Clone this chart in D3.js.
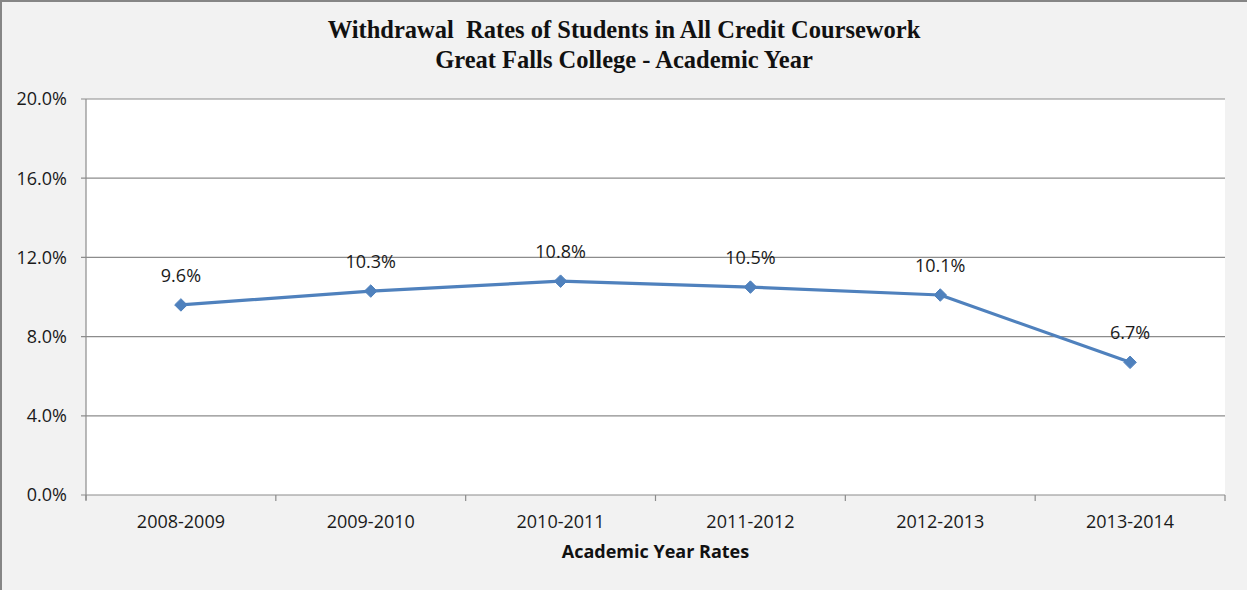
<!DOCTYPE html>
<html><head><meta charset="utf-8">
<script src="https://cdn.jsdelivr.net/npm/d3@7"></script>
<style>body{margin:0;background:#f2f2f2;}svg{display:block;}</style>
</head><body>
<svg id="chart" width="1247" height="590"></svg>
<script>
const categories = ["2008-2009","2009-2010","2010-2011","2011-2012","2012-2013","2013-2014"];
const values = [0.096, 0.103, 0.108, 0.105, 0.101, 0.067];
const yTicks = [0, 0.04, 0.08, 0.12, 0.16, 0.20];
const titleLines = ["Withdrawal\u00a0 Rates of Students in All Credit Coursework", "Great Falls College - Academic Year"];
const xTitle = "Academic Year Rates";

const W = 1247, H = 590;
const m = {left: 86, right: 1225, top: 99, bottom: 495};
const svg = d3.select("#chart");
svg.append("rect").attr("width", W).attr("height", H).attr("fill", "#f2f2f2");
svg.append("line").attr("x1",1).attr("x2",1).attr("y1",0).attr("y2",H).attr("stroke","#868686").attr("stroke-width",2);
svg.append("line").attr("x1",0).attr("x2",W).attr("y1",1).attr("y2",1).attr("stroke","#868686").attr("stroke-width",2);

const x = d3.scaleBand().domain(categories).range([m.left, m.right]).padding(0);
const y = d3.scaleLinear().domain([0, 0.20]).range([m.bottom, m.top]);

svg.append("rect").attr("x", m.left).attr("y", m.top).attr("width", m.right-m.left).attr("height", m.bottom-m.top).attr("fill", "#fff");

// gridlines
svg.append("g").selectAll("line").data(yTicks).join("line")
  .attr("x1", m.left-5).attr("x2", m.right)
  .attr("y1", d => y(d)).attr("y2", d => y(d))
  .attr("stroke", "#8c8c8c").attr("stroke-width", 1.2);

// y axis line
svg.append("line").attr("x1", m.left).attr("x2", m.left).attr("y1", m.top).attr("y2", m.bottom+5)
  .attr("stroke", "#8c8c8c").attr("stroke-width", 1.2);

// x ticks at band boundaries
const bounds = categories.map(c => x(c)).concat([m.right]);
svg.append("g").selectAll("line").data(bounds).join("line")
  .attr("x1", d => d).attr("x2", d => d).attr("y1", m.bottom).attr("y2", m.bottom+6)
  .attr("stroke", "#8c8c8c").attr("stroke-width", 1.2);

const fmt = d3.format(".1%");
const font = "'Open Sans', sans-serif";
const fs = 18;
svg.append("g").selectAll("text").data(yTicks).join("text")
  .attr("x", 67).attr("y", d => y(d)).attr("dy", "0.35em")
  .attr("text-anchor", "end").attr("font-family", font).attr("font-size", fs).attr("fill", "#1a1a1a")
  .text(d => fmt(d));

svg.append("g").selectAll("text").data(categories).join("text")
  .attr("x", d => x(d) + x.bandwidth()/2).attr("y", 528)
  .attr("text-anchor", "middle").attr("font-family", font).attr("font-size", fs).attr("fill", "#1a1a1a")
  .text(d => d);

svg.append("text").attr("x", (m.left+m.right)/2).attr("y", 558).attr("text-anchor", "middle")
  .attr("font-family", font).attr("font-size", fs).attr("font-weight", "bold").attr("fill", "#111")
  .text(xTitle);

svg.append("g").selectAll("text").data(titleLines).join("text")
  .attr("x", 624).attr("y", (d,i) => 38 + i*30).attr("text-anchor", "middle")
  .attr("font-family", "'Liberation Serif', 'Times New Roman', serif").attr("font-size", 24.5).attr("font-weight", "bold").attr("fill", "#111")
  .text(d => d);

const cx = (d, i) => x(categories[i]) + x.bandwidth()/2;
const line = d3.line().x((d,i) => cx(d,i)).y(d => y(d));
svg.append("path").datum(values).attr("d", line).attr("fill", "none")
  .attr("stroke", "#4f81bd").attr("stroke-width", 3.2).attr("stroke-linejoin", "round");

svg.append("g").selectAll("path").data(values).join("path")
  .attr("transform", (d,i) => `translate(${cx(d,i)},${y(d)})`)
  .attr("d", d3.symbol().type(d3.symbolDiamond2).size(100))
  .attr("fill", "#4f81bd").attr("stroke", "#4f81bd").attr("stroke-width", 1);

svg.append("g").selectAll("text").data(values).join("text")
  .attr("x", (d,i) => cx(d,i)).attr("y", d => y(d) - 23)
  .attr("text-anchor", "middle").attr("font-family", font).attr("font-size", fs).attr("fill", "#1a1a1a")
  .text(d => fmt(d));
</script>
</body></html>
